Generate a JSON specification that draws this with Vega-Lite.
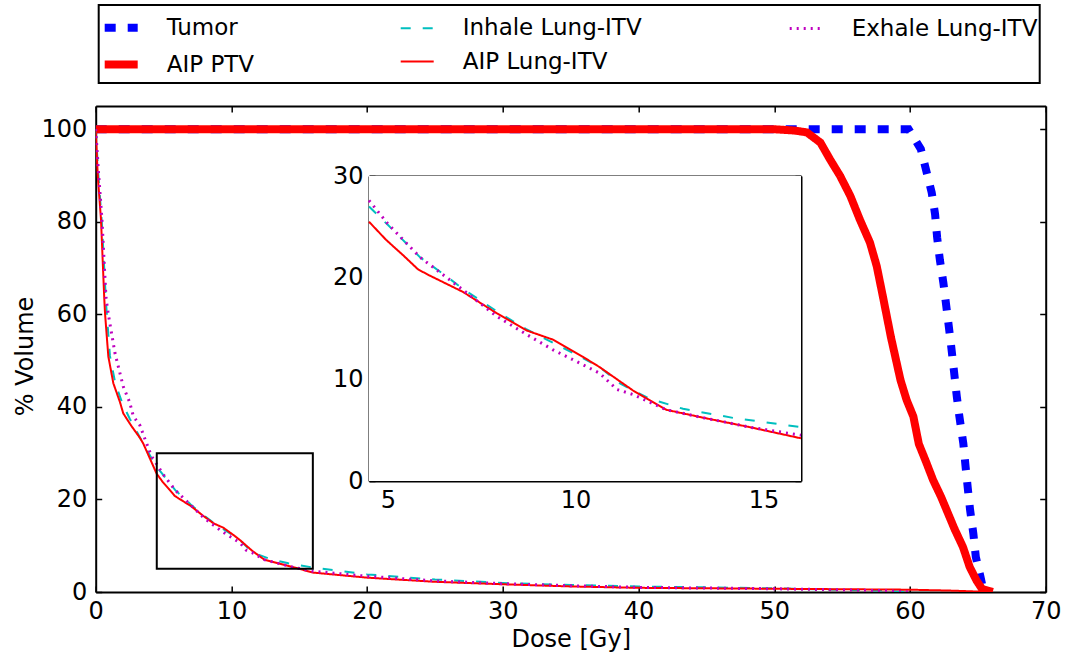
{
  "$schema": "https://vega.github.io/schema/vega-lite/v6.json",
  "autosize": {"type": "none"},
  "padding": {"left": 95.7, "top": 106, "right": 19.3, "bottom": 68},
  "width": 950,
  "height": 486,
  "background": "white",
  "config": {
    "view": {"stroke": null},
    "font": "DejaVu Sans",
    "axis": {
      "grid": false,
      "domainColor": "black",
      "domainWidth": 2,
      "tickColor": "black",
      "tickWidth": 1.5,
      "tickSize": -6,
      "labelFont": "DejaVu Sans",
      "labelFontSize": 24,
      "labelColor": "black",
      "titleFont": "DejaVu Sans",
      "titleFontSize": 24,
      "titleFontWeight": "normal",
      "titleColor": "black",
      "labelFlush": false,
      "labelOverlap": false
    },
    "axisX": {"labelPadding": 13},
    "axisY": {"labelPadding": 15},
    "legend": {
      "title": null,
      "orient": "none",
      "legendX": 3,
      "legendY": -101,
      "columns": 3,
      "columnPadding": 142,
      "rowPadding": -2,
      "symbolType": "stroke",
      "symbolSize": 1089,
      "labelOffset": 25,
      "labelFontSize": 23,
      "labelFont": "DejaVu Sans",
      "labelColor": "black",
      "labelLimit": 400,
      "strokeColor": "black",
      "strokeWidth": 2,
      "padding": 2,
      "fillColor": "white"
    }
  },
  "datasets": {
    "dvh": [
      {"series": "Tumor", "dose": 0, "vol": 100},
      {"series": "Tumor", "dose": 50, "vol": 100},
      {"series": "Tumor", "dose": 59.9, "vol": 100},
      {"series": "Tumor", "dose": 60.8, "vol": 95.7},
      {"series": "Tumor", "dose": 61.2, "vol": 91},
      {"series": "Tumor", "dose": 61.6, "vol": 86.3},
      {"series": "Tumor", "dose": 61.85, "vol": 81.6},
      {"series": "Tumor", "dose": 62.0, "vol": 76.6},
      {"series": "Tumor", "dose": 62.2, "vol": 71.8},
      {"series": "Tumor", "dose": 62.46, "vol": 66.8},
      {"series": "Tumor", "dose": 62.75, "vol": 60},
      {"series": "Tumor", "dose": 63.0, "vol": 54},
      {"series": "Tumor", "dose": 63.25, "vol": 47.5},
      {"series": "Tumor", "dose": 63.45, "vol": 42.2},
      {"series": "Tumor", "dose": 63.64, "vol": 37.9},
      {"series": "Tumor", "dose": 63.93, "vol": 32.1},
      {"series": "Tumor", "dose": 64.1, "vol": 27},
      {"series": "Tumor", "dose": 64.26, "vol": 22.4},
      {"series": "Tumor", "dose": 64.43, "vol": 17.7},
      {"series": "Tumor", "dose": 64.67, "vol": 12.6},
      {"series": "Tumor", "dose": 64.85, "vol": 7.6},
      {"series": "Tumor", "dose": 65.2, "vol": 3.2},
      {"series": "Tumor", "dose": 65.4, "vol": 0.5},
      {"series": "Tumor", "dose": 65.6, "vol": 0},
      {"series": "AIP PTV", "dose": 0, "vol": 100},
      {"series": "AIP PTV", "dose": 49.9, "vol": 100},
      {"series": "AIP PTV", "dose": 51.5, "vol": 99.7},
      {"series": "AIP PTV", "dose": 52.4, "vol": 99.3},
      {"series": "AIP PTV", "dose": 53.4, "vol": 97.1},
      {"series": "AIP PTV", "dose": 54.1, "vol": 93.5},
      {"series": "AIP PTV", "dose": 54.85, "vol": 89.9},
      {"series": "AIP PTV", "dose": 55.6, "vol": 85.6},
      {"series": "AIP PTV", "dose": 56.3, "vol": 80.5},
      {"series": "AIP PTV", "dose": 57.05, "vol": 75.5},
      {"series": "AIP PTV", "dose": 57.55, "vol": 70.4},
      {"series": "AIP PTV", "dose": 58.0, "vol": 63.9},
      {"series": "AIP PTV", "dose": 58.6, "vol": 55},
      {"series": "AIP PTV", "dose": 59.3, "vol": 45.8},
      {"series": "AIP PTV", "dose": 59.75, "vol": 41.5},
      {"series": "AIP PTV", "dose": 60.25, "vol": 37.9},
      {"series": "AIP PTV", "dose": 60.65, "vol": 32},
      {"series": "AIP PTV", "dose": 61.2, "vol": 28},
      {"series": "AIP PTV", "dose": 61.7, "vol": 24.2},
      {"series": "AIP PTV", "dose": 62.3, "vol": 20.5},
      {"series": "AIP PTV", "dose": 62.8, "vol": 17},
      {"series": "AIP PTV", "dose": 63.3, "vol": 13.5},
      {"series": "AIP PTV", "dose": 63.9, "vol": 9.75},
      {"series": "AIP PTV", "dose": 64.4, "vol": 5.4},
      {"series": "AIP PTV", "dose": 64.9, "vol": 2.5},
      {"series": "AIP PTV", "dose": 65.3, "vol": 0.7},
      {"series": "AIP PTV", "dose": 65.7, "vol": 0.3},
      {"series": "AIP PTV", "dose": 66.1, "vol": 0},
      {"series": "Inhale Lung-ITV", "dose": 0, "vol": 100},
      {"series": "Inhale Lung-ITV", "dose": 0.2, "vol": 90},
      {"series": "Inhale Lung-ITV", "dose": 0.45, "vol": 80},
      {"series": "Inhale Lung-ITV", "dose": 0.75, "vol": 63},
      {"series": "Inhale Lung-ITV", "dose": 0.82, "vol": 60},
      {"series": "Inhale Lung-ITV", "dose": 1.05, "vol": 51},
      {"series": "Inhale Lung-ITV", "dose": 1.45, "vol": 45},
      {"series": "Inhale Lung-ITV", "dose": 2.0, "vol": 40.5},
      {"series": "Inhale Lung-ITV", "dose": 2.5, "vol": 37.5},
      {"series": "Inhale Lung-ITV", "dose": 3.0, "vol": 34.8},
      {"series": "Inhale Lung-ITV", "dose": 3.6, "vol": 31.5},
      {"series": "Inhale Lung-ITV", "dose": 4.1, "vol": 29},
      {"series": "Inhale Lung-ITV", "dose": 4.5, "vol": 27.0},
      {"series": "Inhale Lung-ITV", "dose": 5.0, "vol": 25.2},
      {"series": "Inhale Lung-ITV", "dose": 5.86, "vol": 22.0},
      {"series": "Inhale Lung-ITV", "dose": 6.5, "vol": 20.3},
      {"series": "Inhale Lung-ITV", "dose": 7.0, "vol": 18.9},
      {"series": "Inhale Lung-ITV", "dose": 7.9, "vol": 16.7},
      {"series": "Inhale Lung-ITV", "dose": 8.7, "vol": 14.9},
      {"series": "Inhale Lung-ITV", "dose": 9.4, "vol": 13.6},
      {"series": "Inhale Lung-ITV", "dose": 9.93, "vol": 12.6},
      {"series": "Inhale Lung-ITV", "dose": 10.64, "vol": 11.2},
      {"series": "Inhale Lung-ITV", "dose": 11.18, "vol": 9.6},
      {"series": "Inhale Lung-ITV", "dose": 11.53, "vol": 8.9},
      {"series": "Inhale Lung-ITV", "dose": 11.97, "vol": 8.1},
      {"series": "Inhale Lung-ITV", "dose": 12.86, "vol": 7.1},
      {"series": "Inhale Lung-ITV", "dose": 14.2, "vol": 6.2},
      {"series": "Inhale Lung-ITV", "dose": 16.0, "vol": 5.3},
      {"series": "Inhale Lung-ITV", "dose": 20, "vol": 3.8},
      {"series": "Inhale Lung-ITV", "dose": 25, "vol": 2.7},
      {"series": "Inhale Lung-ITV", "dose": 30, "vol": 1.95},
      {"series": "Inhale Lung-ITV", "dose": 35, "vol": 1.5},
      {"series": "Inhale Lung-ITV", "dose": 40, "vol": 1.2},
      {"series": "Inhale Lung-ITV", "dose": 50, "vol": 0.8},
      {"series": "Inhale Lung-ITV", "dose": 58, "vol": 0.3},
      {"series": "Inhale Lung-ITV", "dose": 60, "vol": 0},
      {"series": "AIP Lung-ITV", "dose": 0, "vol": 100},
      {"series": "AIP Lung-ITV", "dose": 0.15, "vol": 90},
      {"series": "AIP Lung-ITV", "dose": 0.39, "vol": 80.5},
      {"series": "AIP Lung-ITV", "dose": 0.63, "vol": 63.5},
      {"series": "AIP Lung-ITV", "dose": 0.69, "vol": 60.1},
      {"series": "AIP Lung-ITV", "dose": 0.93, "vol": 50.9},
      {"series": "AIP Lung-ITV", "dose": 1.3, "vol": 45.1},
      {"series": "AIP Lung-ITV", "dose": 1.79, "vol": 41.0},
      {"series": "AIP Lung-ITV", "dose": 2.03, "vol": 38.6},
      {"series": "AIP Lung-ITV", "dose": 2.6, "vol": 36},
      {"series": "AIP Lung-ITV", "dose": 3.26, "vol": 33.3},
      {"series": "AIP Lung-ITV", "dose": 3.5, "vol": 32.1},
      {"series": "AIP Lung-ITV", "dose": 4.0, "vol": 28.8},
      {"series": "AIP Lung-ITV", "dose": 4.5, "vol": 25.5},
      {"series": "AIP Lung-ITV", "dose": 4.96, "vol": 23.7},
      {"series": "AIP Lung-ITV", "dose": 5.41, "vol": 22.2},
      {"series": "AIP Lung-ITV", "dose": 5.81, "vol": 20.8},
      {"series": "AIP Lung-ITV", "dose": 6.12, "vol": 20.2},
      {"series": "AIP Lung-ITV", "dose": 7.0, "vol": 18.6},
      {"series": "AIP Lung-ITV", "dose": 7.9, "vol": 16.5},
      {"series": "AIP Lung-ITV", "dose": 8.7, "vol": 14.8},
      {"series": "AIP Lung-ITV", "dose": 9.4, "vol": 13.9},
      {"series": "AIP Lung-ITV", "dose": 10.2, "vol": 12.2},
      {"series": "AIP Lung-ITV", "dose": 10.64, "vol": 11.2},
      {"series": "AIP Lung-ITV", "dose": 11.18, "vol": 9.8},
      {"series": "AIP Lung-ITV", "dose": 11.53, "vol": 8.9},
      {"series": "AIP Lung-ITV", "dose": 12.42, "vol": 7.0},
      {"series": "AIP Lung-ITV", "dose": 13.3, "vol": 6.3},
      {"series": "AIP Lung-ITV", "dose": 14.63, "vol": 5.3},
      {"series": "AIP Lung-ITV", "dose": 16.0, "vol": 4.2},
      {"series": "AIP Lung-ITV", "dose": 20, "vol": 3.1},
      {"series": "AIP Lung-ITV", "dose": 25, "vol": 2.2},
      {"series": "AIP Lung-ITV", "dose": 30, "vol": 1.67},
      {"series": "AIP Lung-ITV", "dose": 35, "vol": 1.2},
      {"series": "AIP Lung-ITV", "dose": 40, "vol": 0.9},
      {"series": "AIP Lung-ITV", "dose": 50, "vol": 0.7},
      {"series": "AIP Lung-ITV", "dose": 60, "vol": 0.5},
      {"series": "AIP Lung-ITV", "dose": 63, "vol": 0.3},
      {"series": "AIP Lung-ITV", "dose": 66, "vol": 0},
      {"series": "Exhale Lung-ITV", "dose": 0, "vol": 100},
      {"series": "Exhale Lung-ITV", "dose": 0.2, "vol": 91},
      {"series": "Exhale Lung-ITV", "dose": 0.46, "vol": 80.5},
      {"series": "Exhale Lung-ITV", "dose": 0.76, "vol": 63.5},
      {"series": "Exhale Lung-ITV", "dose": 0.93, "vol": 60},
      {"series": "Exhale Lung-ITV", "dose": 1.42, "vol": 51.6},
      {"series": "Exhale Lung-ITV", "dose": 2.03, "vol": 44.4},
      {"series": "Exhale Lung-ITV", "dose": 2.5, "vol": 41},
      {"series": "Exhale Lung-ITV", "dose": 2.77, "vol": 38},
      {"series": "Exhale Lung-ITV", "dose": 3.26, "vol": 36},
      {"series": "Exhale Lung-ITV", "dose": 3.7, "vol": 32.5},
      {"series": "Exhale Lung-ITV", "dose": 4.1, "vol": 29.4},
      {"series": "Exhale Lung-ITV", "dose": 4.5, "vol": 27.6},
      {"series": "Exhale Lung-ITV", "dose": 5.0, "vol": 25.3},
      {"series": "Exhale Lung-ITV", "dose": 5.86, "vol": 22.0},
      {"series": "Exhale Lung-ITV", "dose": 7.0, "vol": 18.8},
      {"series": "Exhale Lung-ITV", "dose": 7.9, "vol": 16.2},
      {"series": "Exhale Lung-ITV", "dose": 8.7, "vol": 14.4},
      {"series": "Exhale Lung-ITV", "dose": 9.4, "vol": 12.9},
      {"series": "Exhale Lung-ITV", "dose": 10.0, "vol": 11.8},
      {"series": "Exhale Lung-ITV", "dose": 10.64, "vol": 10.6},
      {"series": "Exhale Lung-ITV", "dose": 11.1, "vol": 9.0},
      {"series": "Exhale Lung-ITV", "dose": 11.53, "vol": 8.5},
      {"series": "Exhale Lung-ITV", "dose": 12.42, "vol": 7.0},
      {"series": "Exhale Lung-ITV", "dose": 13.3, "vol": 6.3},
      {"series": "Exhale Lung-ITV", "dose": 14.63, "vol": 5.3},
      {"series": "Exhale Lung-ITV", "dose": 16.0, "vol": 4.5},
      {"series": "Exhale Lung-ITV", "dose": 20, "vol": 3.4},
      {"series": "Exhale Lung-ITV", "dose": 25, "vol": 2.4},
      {"series": "Exhale Lung-ITV", "dose": 30, "vol": 1.8},
      {"series": "Exhale Lung-ITV", "dose": 35, "vol": 1.35},
      {"series": "Exhale Lung-ITV", "dose": 40, "vol": 1.0},
      {"series": "Exhale Lung-ITV", "dose": 50, "vol": 0.7},
      {"series": "Exhale Lung-ITV", "dose": 58, "vol": 0.3},
      {"series": "Exhale Lung-ITV", "dose": 60, "vol": 0}
    ],
    "boxes": [
      {"box": "zoom", "x1": 4.5, "x2": 16, "y1": 5, "y2": 30},
      {"box": "inset", "x1": 4.5, "x2": 16, "y1": 0, "y2": 30}
    ]
  },
  "resolve": {
    "scale": {"x": "independent", "y": "independent"},
    "axis": {"x": "independent", "y": "independent"}
  },
  "layer": [
    {
      "data": {"name": "dvh"},
      "encoding": {
        "x": {
          "field": "dose", "type": "quantitative",
          "scale": {"domain": [0, 70], "nice": false, "zero": false},
          "axis": {"orient": "bottom", "title": "Dose [Gy]", "values": [0, 10, 20, 30, 40, 50, 60, 70], "titlePadding": 4}
        },
        "y": {
          "field": "vol", "type": "quantitative",
          "scale": {"domain": [0, 105], "nice": false, "zero": false},
          "axis": {"orient": "left", "title": "% Volume", "values": [0, 20, 40, 60, 80, 100], "titlePadding": 3, "titleY": 250, "labelPadding": 15}
        },
        "color": {
          "field": "series", "type": "nominal",
          "scale": {
            "type": "ordinal",
            "domain": ["Tumor", "AIP PTV", "Inhale Lung-ITV", "AIP Lung-ITV", "Exhale Lung-ITV"],
            "range": ["#0000ff", "#ff0000", "#00bfbf", "#ff0000", "#bf00bf"]
          },
          "legend": {"title": null}
        },
        "strokeDash": {
          "field": "series", "type": "nominal",
          "scale": {
            "type": "ordinal",
            "domain": ["Tumor", "AIP PTV", "Inhale Lung-ITV", "AIP Lung-ITV", "Exhale Lung-ITV"],
            "range": [[11, 12], [1, 0], [10, 12], [1, 0], [2, 5]]
          },
          "legend": {"title": null}
        },
        "strokeWidth": {
          "field": "series", "type": "nominal",
          "scale": {
            "type": "ordinal",
            "domain": ["Tumor", "AIP PTV", "Inhale Lung-ITV", "AIP Lung-ITV", "Exhale Lung-ITV"],
            "range": [8, 8, 2, 2, 3]
          },
          "legend": {"title": null}
        }
      },
      "layer": [
        {"transform": [{"filter": "datum.series === 'Tumor'"}], "mark": {"type": "line", "clip": true, "strokeCap": "butt"}},
        {"transform": [{"filter": "datum.series === 'AIP PTV'"}], "mark": {"type": "line", "clip": true, "strokeCap": "butt"}},
        {"transform": [{"filter": "datum.series === 'Inhale Lung-ITV'"}], "mark": {"type": "line", "clip": true, "strokeCap": "butt"}},
        {"transform": [{"filter": "datum.series === 'AIP Lung-ITV'"}], "mark": {"type": "line", "clip": true, "strokeCap": "butt"}},
        {"transform": [{"filter": "datum.series === 'Exhale Lung-ITV'"}], "mark": {"type": "line", "clip": true, "strokeCap": "butt"}}
      ]
    },
    {
      "data": {"name": "boxes"},
      "transform": [{"filter": "datum.box === 'zoom'"}],
      "mark": {"type": "rect", "filled": false, "stroke": "black", "strokeWidth": 2},
      "encoding": {
        "x": {
          "field": "x1", "type": "quantitative",
          "scale": {"domain": [0, 70], "nice": false, "zero": false},
          "axis": {"orient": "top", "labels": false, "title": null, "values": [0, 10, 20, 30, 40, 50, 60, 70]}
        },
        "x2": {"field": "x2"},
        "y": {
          "field": "y1", "type": "quantitative",
          "scale": {"domain": [0, 105], "nice": false, "zero": false},
          "axis": {"orient": "right", "labels": false, "title": null, "values": [0, 20, 40, 60, 80, 100]}
        },
        "y2": {"field": "y2"}
      }
    },
    {
      "data": {"name": "boxes"},
      "transform": [{"filter": "datum.box === 'inset'"}],
      "mark": {"type": "rect", "fill": "white", "strokeWidth": 0},
      "encoding": {
        "x": {
          "field": "x1", "type": "quantitative",
          "scale": {"domain": [4.5, 16], "range": [273.3, 705.3], "nice": false, "zero": false},
          "axis": {"orient": "top", "labels": false, "title": null, "values": [5, 10, 15], "offset": -70}
        },
        "x2": {"field": "x2"},
        "y": {
          "field": "y1", "type": "quantitative",
          "scale": {"domain": [0, 30], "range": [375, 70], "nice": false, "zero": false},
          "axis": {"orient": "right", "labels": false, "title": null, "values": [0, 10, 20, 30], "offset": -244.7}
        },
        "y2": {"field": "y2"}
      }
    },
    {
      "data": {"name": "dvh"},
      "transform": [{"filter": "datum.dose >= 4.5 && datum.dose <= 16 && (datum.series === 'Inhale Lung-ITV' || datum.series === 'AIP Lung-ITV' || datum.series === 'Exhale Lung-ITV')"}],
      "encoding": {
        "x": {
          "field": "dose", "type": "quantitative",
          "scale": {"domain": [4.5, 16], "range": [273.3, 705.3], "nice": false, "zero": false},
          "axis": {"orient": "bottom", "title": null, "values": [5, 10, 15], "offset": -111}
        },
        "y": {
          "field": "vol", "type": "quantitative",
          "scale": {"domain": [0, 30], "range": [375, 70], "nice": false, "zero": false},
          "axis": {"orient": "left", "title": null, "values": [0, 10, 20, 30], "offset": -273.3, "labelPadding": 12}
        },
        "color": {
          "field": "series", "type": "nominal",
          "scale": {
            "type": "ordinal",
            "domain": ["Tumor", "AIP PTV", "Inhale Lung-ITV", "AIP Lung-ITV", "Exhale Lung-ITV"],
            "range": ["#0000ff", "#ff0000", "#00bfbf", "#ff0000", "#bf00bf"]
          },
          "legend": {"title": null}
        },
        "strokeDash": {
          "field": "series", "type": "nominal",
          "scale": {
            "type": "ordinal",
            "domain": ["Tumor", "AIP PTV", "Inhale Lung-ITV", "AIP Lung-ITV", "Exhale Lung-ITV"],
            "range": [[11, 12], [1, 0], [10, 12], [1, 0], [2, 5]]
          },
          "legend": {"title": null}
        },
        "strokeWidth": {
          "field": "series", "type": "nominal",
          "scale": {
            "type": "ordinal",
            "domain": ["Tumor", "AIP PTV", "Inhale Lung-ITV", "AIP Lung-ITV", "Exhale Lung-ITV"],
            "range": [8, 8, 2, 2, 3]
          },
          "legend": {"title": null}
        }
      },
      "layer": [
        {"transform": [{"filter": "datum.series === 'Inhale Lung-ITV'"}], "mark": {"type": "line", "strokeCap": "butt"}},
        {"transform": [{"filter": "datum.series === 'AIP Lung-ITV'"}], "mark": {"type": "line", "strokeCap": "butt"}},
        {"transform": [{"filter": "datum.series === 'Exhale Lung-ITV'"}], "mark": {"type": "line", "strokeCap": "butt"}}
      ]
    }
  ]
}
